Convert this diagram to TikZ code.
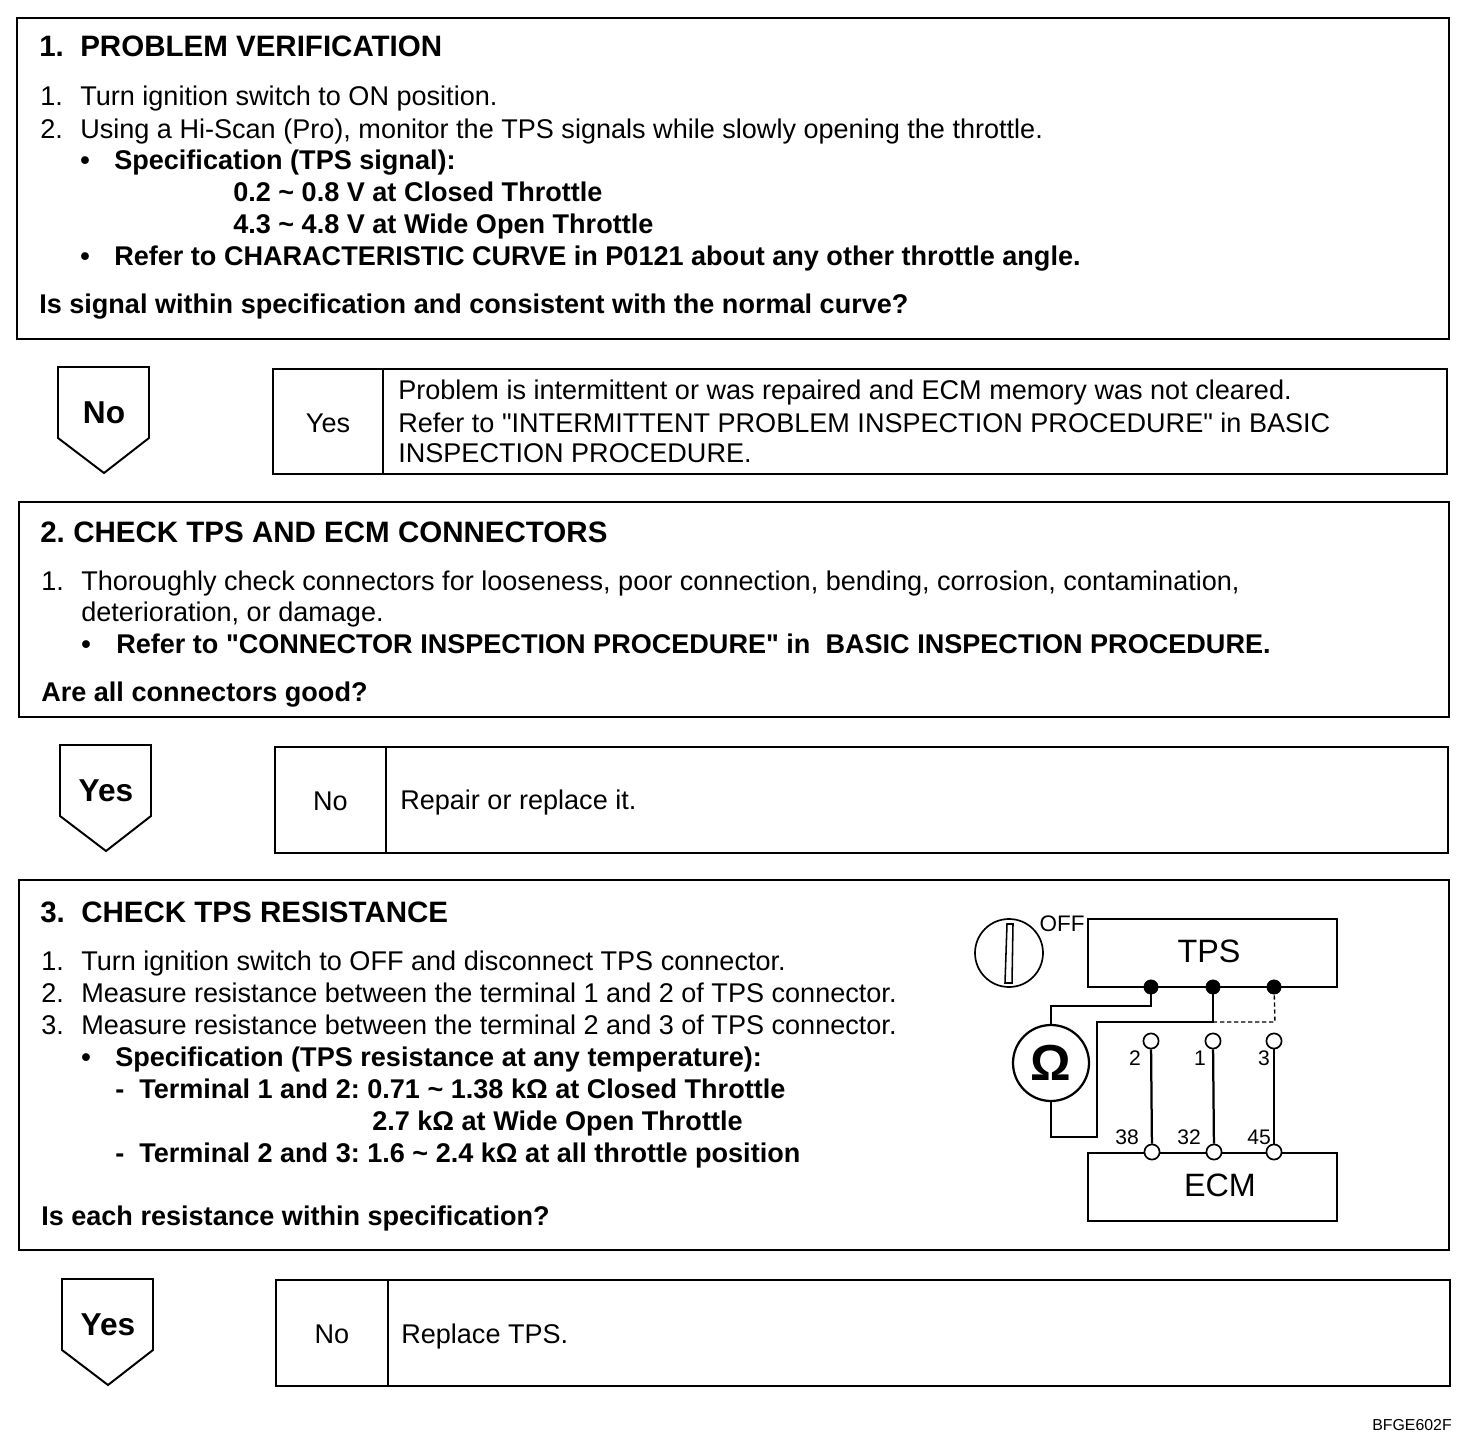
\documentclass[tikz,border=0pt]{standalone}
\usepackage{fontspec}
\setmainfont{Liberation Sans}[Ligatures=TeXOff]
\usepackage{tikz}
\usetikzlibrary{positioning,calc}
\tikzset{
  frame/.style={draw,line width=1.4pt},
  txt/.style={anchor=base west,inner sep=0pt,font=\fontsize{19.25}{22}\selectfont\frenchspacing},
  bld/.style={txt,font=\fontsize{19.25}{22}\selectfont\frenchspacing\bfseries},
  ttl/.style={txt,font=\fontsize{21}{24}\selectfont\bfseries},
  tag/.style={inner sep=0pt,font=\fontsize{19.25}{22}\selectfont},
  arrowtag/.style={inner sep=0pt,font=\fontsize{22.5}{24}\selectfont\bfseries},
  wire/.style={line width=1.6pt},
  fulldot/.style={circle,fill=black,draw,inner sep=0pt,minimum size=3.6mm},
  opendot/.style={circle,fill=white,draw,line width=1.2pt,inner sep=0pt,minimum size=3.8mm},
  pinlabel/.style={inner sep=0pt,font=\fontsize{15}{17}\selectfont},
}
\begin{document}
\begin{tikzpicture}[x=0.25mm,y=-0.25mm]
  \useasboundingbox (0,0) rectangle (1472,1446);
  % step frames
  \draw[frame] (17,18) rectangle (1449,339);
  \draw[frame] (19,502) rectangle (1449,717);
  \draw[frame] (19,880) rectangle (1449,1250);
  % down arrows
  \foreach \x/\y/\lab/\ly/\nm in {58/367/No/413/a,60/745/Yes/791/b,62/1279/Yes/1325/c}{
    \draw[frame] (\x,\y) -- (\x+91,\y) -- (\x+91,\y+71) -- (\x+46,\y+106) -- (\x,\y+71) -- cycle;
    \node[arrowtag] (arrow\nm) at (\x+46,\ly) {\lab};
  }
  % result boxes
  \foreach \x/\y/\xd/\xe/\ye/\lab/\nm in {273/369/383/1447/474/Yes/a,275/747/386/1448/853/No/b,276/1280/388/1450/1386/No/c}{
    \draw[frame] (\x,\y) rectangle (\xe,\ye);
    \draw[frame] (\xd,\y) -- (\xd,\ye);
    \node[tag] (result\nm) at ({(\x+\xd)/2},{(\y+\ye)/2+1.5}) {\lab};
  }
  % step 1
  \node[ttl] (numa) at (39,57) {1.};
  \node[ttl] (titlea) at (80,57) {PROBLEM VERIFICATION};
  \node[txt] (itemaa) at (40,106) {1.};
  \node[txt] (lineaa) at (80,106) {Turn ignition switch to ON position.};
  \node[txt] (itemab) at (40,139) {2.};
  \node[txt] (lineab) at (80,139) {Using a Hi-Scan (Pro), monitor the TPS signals while slowly opening the throttle.};
  \node[bld] (bulaa) at (80,170) {•};
  \node[bld] (lineac) at (114,170) {Specification (TPS signal):};
  \node[bld] (linead) at (233,202) {0.2 \textasciitilde{} 0.8 V at Closed Throttle};
  \node[bld] (lineae) at (233,234) {4.3 \textasciitilde{} 4.8 V at Wide Open Throttle};
  \node[bld] (bulab) at (80,266) {•};
  \node[bld] (lineaf) at (114,266) {Refer to CHARACTERISTIC CURVE in P0121 about any other throttle angle.};
  \node[bld] (askA) at (39,314) {Is signal within specification and consistent with the normal curve?};
  \node[txt] (notea) at (398,400) {Problem is intermittent or was repaired and ECM memory was not cleared.};
  \node[txt] (noteb) at (398,432) {Refer to "INTERMITTENT PROBLEM INSPECTION PROCEDURE" in BASIC};
  \node[txt] (notec) at (398,463) {INSPECTION PROCEDURE.};
  % step 2
  \node[ttl] (numb) at (40,542) {2.};
  \node[ttl] (titleb) at (73,542) {CHECK TPS AND ECM CONNECTORS};
  \node[txt] (itemba) at (41,590) {1.};
  \node[txt] (lineba) at (81,590) {Thoroughly check connectors for looseness, poor connection, bending, corrosion, contamination,};
  \node[txt] (linebb) at (81,621) {deterioration, or damage.};
  \node[bld] (bulba) at (81,653) {•};
  \node[bld] (linebc) at (116,653) {Refer to "CONNECTOR INSPECTION PROCEDURE" in\ \ BASIC INSPECTION PROCEDURE.};
  \node[bld] (askB) at (41,701) {Are all connectors good?};
  \node[txt] (noted) at (400,809) {Repair or replace it.};
  % step 3
  \node[ttl] (numc) at (40,922) {3.};
  \node[ttl] (titlec) at (81,922) {CHECK TPS RESISTANCE};
  \foreach \y/\n/\t/\nm in {970/1./{Turn ignition switch to OFF and disconnect TPS connector.}/a,1002/2./{Measure resistance between the terminal 1 and 2 of TPS connector.}/b,1034/3./{Measure resistance between the terminal 2 and 3 of TPS connector.}/c}{
    \node[txt] (itemc\nm) at (41,\y) {\n};
    \node[txt] (linec\nm) at (81,\y) {\t};
  }
  \node[bld] (bulca) at (81,1066) {•};
  \node[bld] (linecd) at (115,1066) {Specification (TPS resistance at any temperature):};
  \node[bld] (dashca) at (115,1098) {-};
  \node[bld] (linece) at (139,1098) {Terminal 1 and 2: 0.71 \textasciitilde{} 1.38 kΩ at Closed Throttle};
  \node[bld] (linecf) at (372,1130) {2.7 kΩ at Wide Open Throttle};
  \node[bld] (dashcb) at (115,1162) {-};
  \node[bld] (linecg) at (139,1162) {Terminal 2 and 3: 1.6 \textasciitilde{} 2.4 kΩ at all throttle position};
  \node[bld] (askC) at (41,1225) {Is each resistance within specification?};
  \node[txt] (notee) at (401,1343) {Replace TPS.};
  \node[anchor=base west,inner sep=0pt,font=\fontsize{11.3}{13}\selectfont] (code) at (1372,1430) {BFGE602F};
  % test circuit
  \node[draw,circle,line width=1.2pt,inner sep=0pt,minimum size=17mm] (ign) at (1009,953) {};
  \draw[line width=1.1pt] (1007,924) -- (1013,924) -- (1012,983) -- (1005,983) -- cycle;
  \node[pinlabel,font=\fontsize{16}{18}\selectfont] (off) at (1062,924) {OFF};
  \draw[frame] (1088,919) rectangle (1337,987);
  \node[inner sep=0pt,font=\fontsize{23}{26}\selectfont] (tps) at (1209,951) {TPS};
  \draw[frame] (1088,1153) rectangle (1337,1221);
  \node[inner sep=0pt,font=\fontsize{23}{26}\selectfont] (ecm) at (1220,1185) {ECM};
  \node[draw,circle,line width=1.6pt,inner sep=0pt,minimum size=19mm,font=\fontsize{36}{38}\selectfont\bfseries] (meter) at (1051,1063) {Ω};
  \foreach \x/\xb/\nm in {1151/1152/a,1213/1214/b,1274/1274/c}{
    \node[fulldot] (pin\nm) at (\x,987) {};
    \node[opendot] (plug\nm) at (\x,1041) {};
    \node[opendot] (port\nm) at (\xb,1152) {};
    \draw[wire] (plug\nm) -- (port\nm);
  }
  \node[pinlabel] (terma) at (1135,1058) {2};
  \node[pinlabel] (termb) at (1200,1058) {1};
  \node[pinlabel] (termc) at (1264,1058) {3};
  \node[pinlabel] (ecma) at (1127,1137) {38};
  \node[pinlabel] (ecmb) at (1189,1137) {32};
  \node[pinlabel] (ecmc) at (1259,1137) {45};
  \coordinate (benda) at (1151,1006);
  \coordinate (bendb) at (1051,1006);
  \coordinate (bendc) at (1051,1137);
  \coordinate (bendd) at (1097,1137);
  \coordinate (bende) at (1097,1022);
  \coordinate (bendf) at (1213,1022);
  \coordinate (bendg) at (1275,1022);
  \draw[wire] (pina) -- (benda) -- (bendb) -- (meter);
  \draw[wire] (meter) -- (bendc) -- (bendd) -- (bende) -- (bendf) -- (pinb);
  \draw[wire,line width=1pt,densely dashed] (bendf) -- (bendg) -- (pinc);
\end{tikzpicture}
\end{document}
